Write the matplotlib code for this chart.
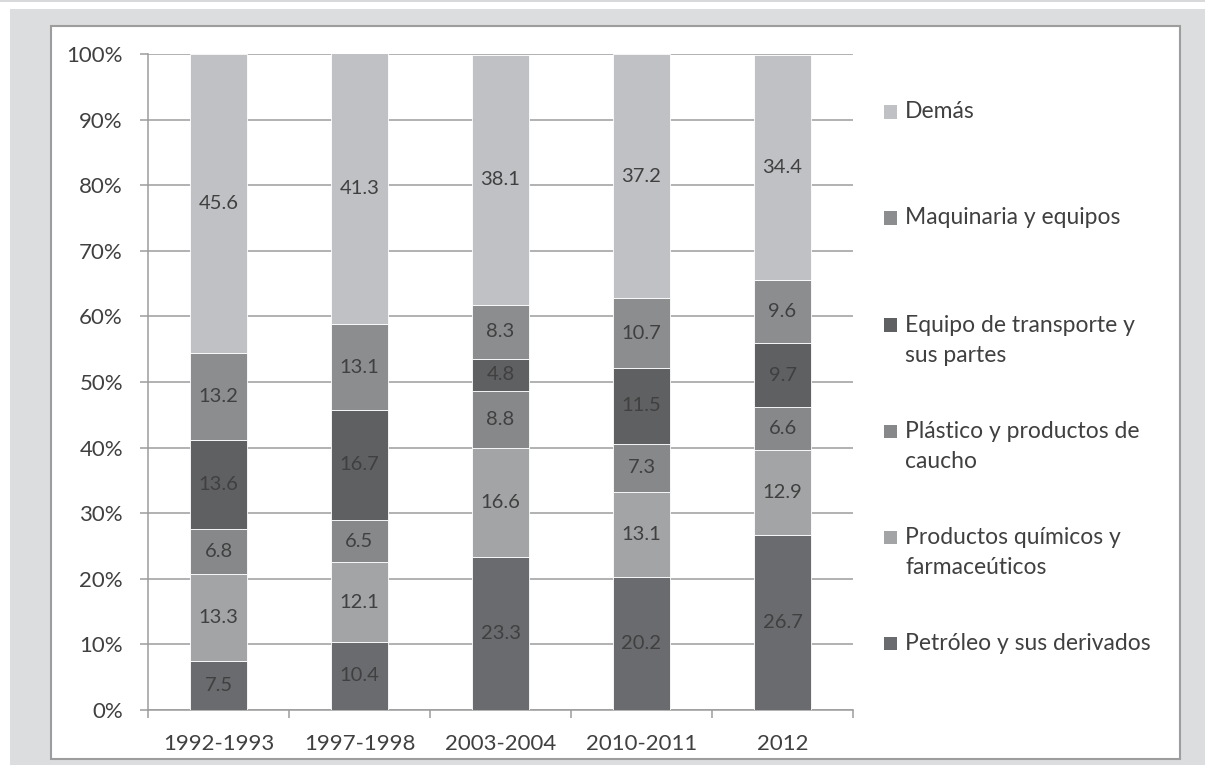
import numpy as np
import matplotlib.pyplot as plt
from matplotlib.patches import Rectangle

plt.rcParams['font.family'] = ['Lato', 'DejaVu Sans']

# Data (percent share, bottom to top)
periods = ['1992-1993', '1997-1998', '2003-2004', '2010-2011', '2012']
series = ['Petróleo y sus derivados', 'Productos químicos y\nfarmaceúticos',
          'Plástico y productos de\ncaucho', 'Equipo de transporte y\nsus partes',
          'Maquinaria y equipos', 'Demás']
petroleo = [7.5, 10.4, 23.3, 20.2, 26.7]
quimicos = [13.3, 12.1, 16.6, 13.1, 12.9]
plastico = [6.8, 6.5, 8.8, 7.3, 6.6]
transporte = [13.6, 16.7, 4.8, 11.5, 9.7]
maquinaria = [13.2, 13.1, 8.3, 10.7, 9.6]
demas = [45.6, 41.3, 38.1, 37.2, 34.4]

values = [petroleo, quimicos, plastico, transporte, maquinaria, demas]
colors = ['#6a6b6e', '#a3a4a6', '#87888a', '#5f6062', '#8c8d8f', '#c0c1c4']
text_color = '#404040'
grid_color = '#9c9c9c'

W, H = 1205, 765
fig = plt.figure(figsize=(W / 100, H / 100), dpi=100)

# background panels (behind the axes)
fig.patches.append(Rectangle((0, 1 - 1.5 / H), 1, 1.5 / H, transform=fig.transFigure,
                             facecolor='#d8d9db', edgecolor='none', zorder=-10))
fig.patches.append(Rectangle((10 / W, 0), 1 - 10 / W, (H - 9) / H, transform=fig.transFigure,
                             facecolor='#dcdddf', edgecolor='none', zorder=-10))
fig.patches.append(Rectangle((51 / W, (H - 759) / H), (1180 - 51) / W, (759 - 26) / H,
                             transform=fig.transFigure, facecolor='white',
                             edgecolor='#9d9d9d', linewidth=1.5, zorder=-9))

ax = fig.add_axes([148 / W, (H - 710) / H, 705 / W, 656 / H])
ax.patch.set_alpha(0)
x = np.arange(len(periods))
bottom = np.zeros(len(periods))
for vals, col in zip(values, colors):
    v = np.array(vals)
    ax.bar(x, v, 0.4, bottom=bottom, color=col, edgecolor='white', linewidth=0.6, zorder=3)
    for xi, b, val in zip(x, bottom, v):
        ax.text(xi, b + val / 2, f'{val:.1f}', ha='center', va='center',
                fontsize=14.5, color=text_color, zorder=4)
    bottom += v

ax.set_xlim(-0.5, len(periods) - 0.5)
ax.set_ylim(0, 100)
ax.set_yticks(np.arange(0, 101, 10))
ax.set_yticklabels([f'{t}%' for t in range(0, 101, 10)])
ax.yaxis.grid(True, color=grid_color, linewidth=1.1, zorder=0)
ax.set_axisbelow(True)

ax.set_xticks(x)
ax.set_xticklabels(periods)
ax.set_xticks(np.arange(-0.5, len(periods)), minor=True)
ax.tick_params(axis='x', which='major', length=0, pad=17, labelsize=16, labelcolor=text_color)
ax.tick_params(axis='x', which='minor', length=6, width=1.1, color=grid_color, direction='out')
ax.tick_params(axis='y', length=6, width=1.1, color=grid_color, pad=12,
               labelsize=16, labelcolor=text_color)

for s in ['top', 'right']:
    ax.spines[s].set_visible(False)
for s in ['left', 'bottom']:
    ax.spines[s].set_color(grid_color)
    ax.spines[s].set_linewidth(1.1)

# legend drawn by hand (top to bottom)
legend_y = [112, 218, 325, 431, 537, 643]
for i, yy in enumerate(legend_y):
    k = len(series) - 1 - i
    fig.patches.append(Rectangle((884 / W, (H - yy - 6.5) / H), 13 / W, 13 / H,
                                 transform=fig.transFigure, facecolor=colors[k],
                                 edgecolor='none'))
    lines = series[k].split('\n')
    for j, line in enumerate(lines):
        fig.text(905 / W, (H - yy - 31 * j) / H, line, ha='left', va='center',
                 fontsize=16.5, color=text_color)

fig.savefig('out.png', dpi=100)
